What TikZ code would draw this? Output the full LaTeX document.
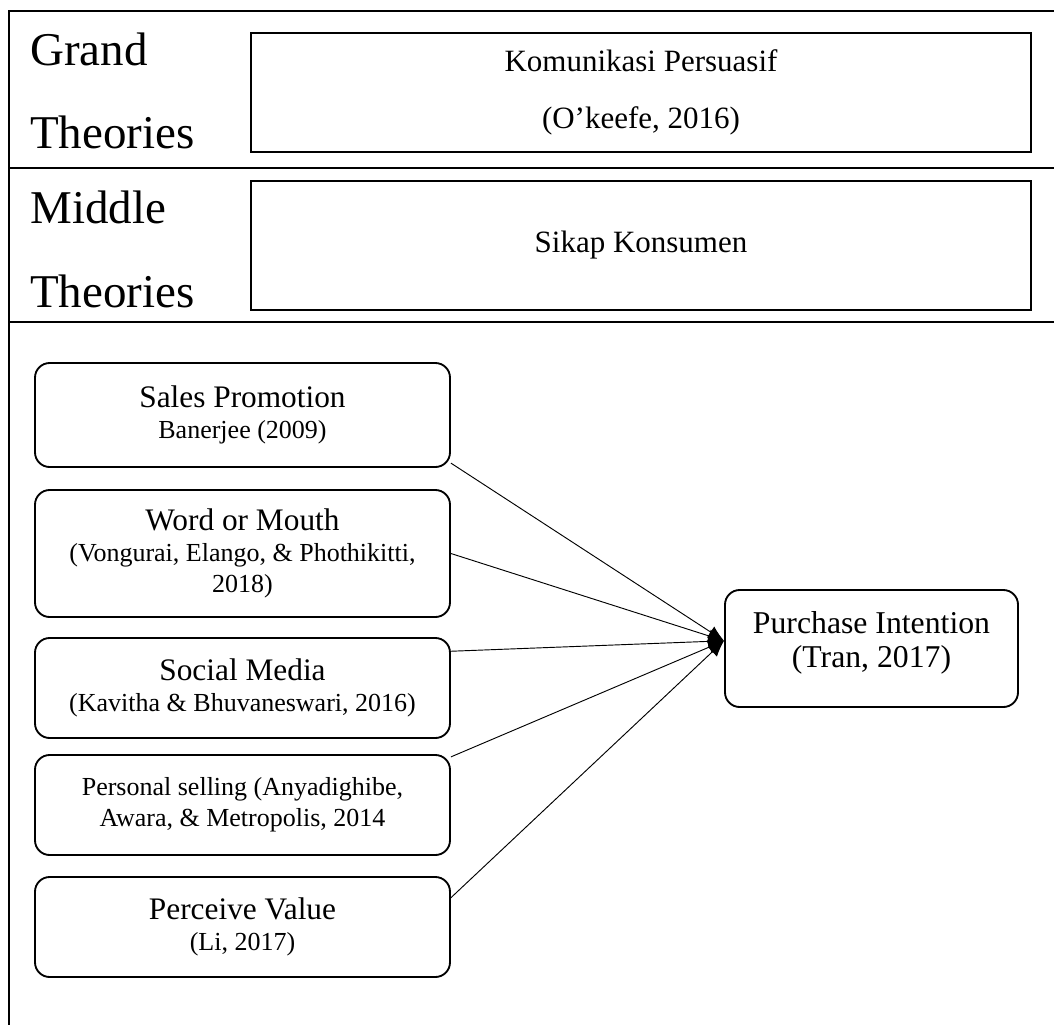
\documentclass[tikz,border=0pt]{standalone}
\usepackage{fontspec}
\setmainfont{Liberation Serif}
\usetikzlibrary{arrows.meta}

\tikzset{
  frame/.style={line width=1.6pt},
  theorybox/.style={draw, line width=1.9pt, minimum width=585pt, align=center, inner sep=0pt, font=\fontsize{23.25}{42.75}\selectfont},
  varbox/.style={draw, line width=1.4pt, rounded corners=11pt, minimum width=311.25pt, align=center, inner sep=0pt, font=\fontsize{19.5}{23}\selectfont},
  tierlabel/.style={anchor=base west, inner sep=0pt, font=\fontsize{35.25}{40}\selectfont},
  conn/.style={line width=0.7pt, -{Latex[length=12pt,width=10pt]}},
}
\newcommand{\vtitle}[1]{{\fontsize{23.5}{23}\selectfont #1}}

\begin{document}
\begin{tikzpicture}[x=0.75pt,y=0.75pt,yscale=-1,xscale=1]
	\useasboundingbox (0,0) rectangle (1054,1025);
	
	% Frame
	\draw[frame] (1054,11) -- (9,11) -- (9,1025);
	\draw[frame] (9,168) -- (1054,168);
	\draw[frame] (9,322) -- (1054,322);
	
	% Text Node
	\node[tierlabel] (grand) at (30,65) {Grand};
	\node[tierlabel] (grandth) at (30,148) {Theories};
	\node[tierlabel] (middle) at (30,223) {Middle};
	\node[tierlabel] (middleth) at (30,307) {Theories};
	
	% Theory boxes
	\node[theorybox, minimum height=89.25pt] (grandbox) at (641,92.5) {Komunikasi Persuasif\\(O’keefe, 2016)};
	\node[theorybox, minimum height=96.75pt] (middlebox) at (641,245.5) {Sikap Konsumen};
	
	% Variables
	\node[varbox, minimum height=78pt] (sales) at (242.5,415) {\vtitle{Sales Promotion}\\Banerjee (2009)};
	\node[varbox, minimum height=95.25pt] (wom) at (242.5,553.5) {\vtitle{Word or Mouth}\\(Vongurai, Elango, \& Phothikitti,\\2018)};
	\node[varbox, minimum height=75pt] (social) at (242.5,688) {\vtitle{Social Media}\\(Kavitha \& Bhuvaneswari, 2016)};
	\node[varbox, minimum height=75pt] (selling) at (242.5,805) {Personal selling (Anyadighibe,\\Awara, \& Metropolis, 2014};
	\node[varbox, minimum height=75pt] (value) at (242.5,927) {\vtitle{Perceive Value}\\(Li, 2017)};
	\node[varbox, minimum width=219.75pt, minimum height=87.75pt, text depth=14pt, font=\fontsize{23.8}{25.5}\selectfont] (intention) at (871.5,648.5) {Purchase Intention\\(Tran, 2017)};
	
	% Connection
	\draw[conn] (sales.-13) -- (intention.177);
	\draw[conn] (wom.east) -- (intention.177);
	\draw[conn] (social.10) -- (intention.177);
	\draw[conn] (selling.13) -- (intention.177);
	\draw[conn] (value.8) -- (intention.177);
	
\end{tikzpicture}
\end{document}
